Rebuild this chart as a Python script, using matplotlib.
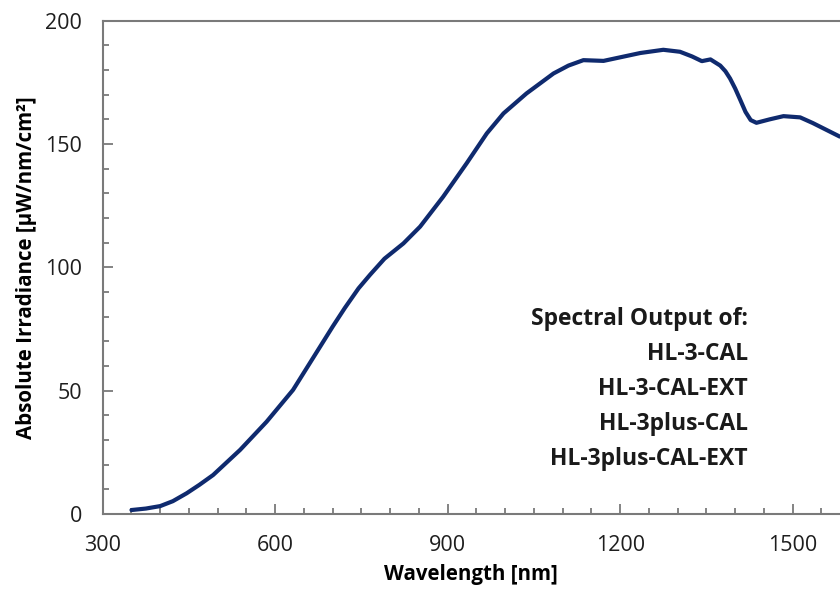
import numpy as np
import matplotlib
matplotlib.use("Agg")
import matplotlib.pyplot as plt
from matplotlib.ticker import MultipleLocator

plt.rcParams['font.family'] = ['Open Sans', 'DejaVu Sans']

# wavelength [nm] and irradiance [uW/nm/cm2]
wl = [350, 375, 400, 422, 446, 468, 492, 539, 585, 631, 678, 700, 721, 745,
      765, 790, 823, 852, 892, 933, 968, 997, 1037, 1084, 1110, 1136, 1171,
      1205, 1235, 1275, 1304, 1325, 1342, 1357, 1374, 1383, 1391, 1400, 1409,
      1418, 1427, 1437, 1460, 1484, 1513, 1535, 1582]
irr = [1.6, 2.2, 3.2, 5.2, 8.4, 11.8, 15.8, 26.0, 37.4, 50.3, 67.8, 76.0,
       83.5, 91.5, 97.0, 103.5, 109.7, 116.5, 128.6, 142.2, 154.3, 162.4,
       170.5, 178.6, 181.8, 184.0, 183.7, 185.4, 186.9, 188.2, 187.4, 185.5,
       183.6, 184.3, 181.8, 179.5, 176.6, 172.5, 167.8, 163.0, 159.7, 158.6,
       160.0, 161.3, 160.8, 158.5, 153.0]

notes = ["Spectral Output of:", "HL-3-CAL", "HL-3-CAL-EXT",
         "HL-3plus-CAL", "HL-3plus-CAL-EXT"]

fig = plt.figure(figsize=(8.4, 5.98), dpi=100)
ax = fig.add_axes([0.1223, 0.1405, 0.8777, 0.8249])

ax.plot(wl, irr, color='#0f2a6e', linewidth=3.0, solid_capstyle='round',
        solid_joinstyle='round')

ax.set_xlim(300, 1582.3)
ax.set_ylim(0, 200)
ax.xaxis.set_major_locator(MultipleLocator(300))
ax.xaxis.set_minor_locator(MultipleLocator(50))
ax.yaxis.set_major_locator(MultipleLocator(50))
ax.yaxis.set_minor_locator(MultipleLocator(10))
ax.tick_params(which='both', direction='in', color='#6e6e6e', width=1.2,
               labelsize=15.5, labelcolor='#1e1e1e', top=False, right=False)
ax.tick_params(which='major', length=7, pad=15)
ax.tick_params(which='minor', length=4)
ax.spines['right'].set_visible(False)
for s in ['left', 'bottom', 'top']:
    ax.spines[s].set_color('#7a7a7a')
    ax.spines[s].set_linewidth(1.5)

ax.set_xlabel('Wavelength [nm]', fontsize=14.8, fontweight='bold', labelpad=6)
ax.set_ylabel('Absolute Irradiance [μW/nm/cm²]', fontsize=14.8,
              fontweight='bold', labelpad=6)

ypos = [319, 354, 389, 424, 459]
for t, yp in zip(notes, ypos):
    fig.text(748 / 840, 1 - yp / 598, t, ha='right', va='center',
             fontsize=16.5, fontweight='bold', color='#1a1a1a')

fig.savefig('out.png', dpi=100)
